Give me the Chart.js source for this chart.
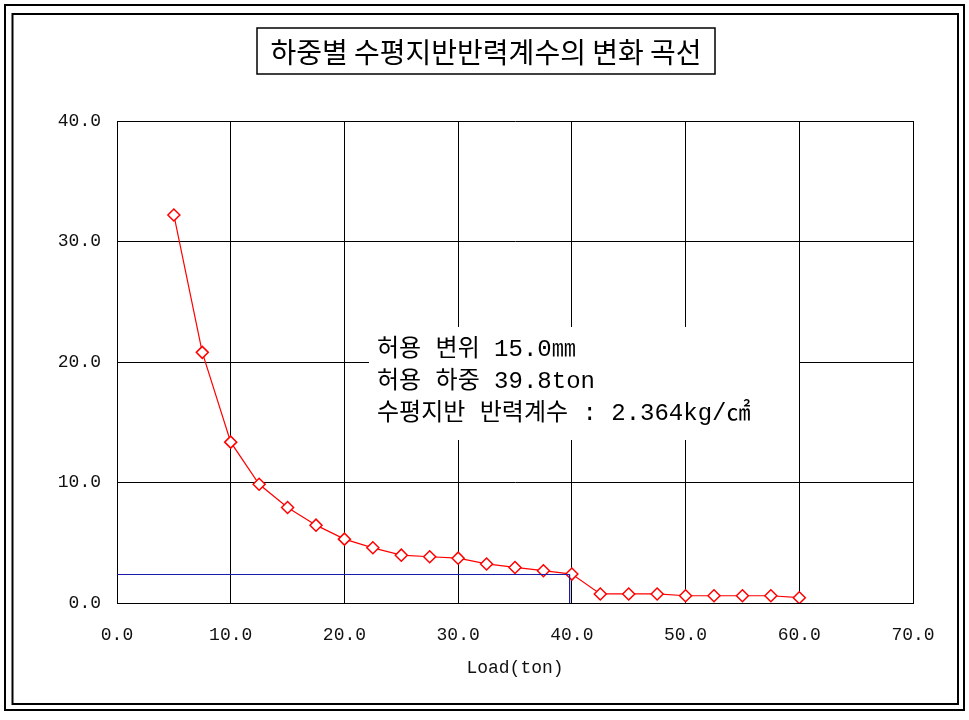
<!DOCTYPE html>
<html lang="ko">
<head>
<meta charset="utf-8">
<title>하중별 수평지반반력계수의 변화 곡선</title>
<script src="https://cdn.jsdelivr.net/npm/chart.js@4/dist/chart.umd.min.js"></script>
<style>
  html, body { margin: 0; padding: 0; background: #fff; }
  #wrap { position: relative; width: 969px; height: 720px; }
  canvas { display: block; }
</style>
</head>
<body>
<div id="wrap"><canvas id="grafico" width="969" height="720"></canvas></div>
<script>
'use strict';

// ── Dati ──────────────────────────────────────────────
const loads = [5, 7.5, 10, 12.5, 15, 17.5, 20, 22.5, 25, 27.5, 30, 32.5, 35, 37.5, 40,
               42.5, 45, 47.5, 50, 52.5, 55, 57.5, 60];
const coef = [32.2, 20.8, 13.35, 9.85, 7.92, 6.46, 5.3, 4.58, 3.97, 3.84, 3.72, 3.24, 2.95, 2.68, 2.4,
              0.75, 0.75, 0.75, 0.6, 0.6, 0.6, 0.6, 0.44];

// allowable load / coefficient guide line
const refX = [0, 39.8, 39.8];
const refY = [2.364, 2.364, 0];

const xTicks = [0, 10, 20, 30, 40, 50, 60, 70];
const yTicks = [0, 10, 20, 30, 40];

const titleText = '하중별 수평지반반력계수의 변화 곡선';
const noteLines = ['허용 변위 15.0㎜', '허용 하중 39.8ton', '수평지반 반력계수 : 2.364kg/㎠'];
const xTitle = 'Load(ton)';

const MONO = "'Liberation Mono', 'Noto Sans CJK KR', monospace";

// ── Plugin: cornice, titolo, riquadro note ────────────────
const decor = {
  id: 'decor',
  beforeDraw(chart) {
    const c = chart.ctx;
    c.save();
    c.fillStyle = '#fff';
    c.fillRect(0, 0, chart.width, chart.height);
    c.strokeStyle = '#000';
    c.lineWidth = 2;
    c.strokeRect(5, 5, 959, 705);
    c.strokeRect(12.5, 14, 945.5, 690);
    // titolo
    c.lineWidth = 1.5;
    c.strokeRect(257, 28, 458, 46);
    c.fillStyle = '#000';
    c.font = "28px 'Noto Sans CJK KR', sans-serif";
    c.textAlign = 'center';
    c.textBaseline = 'middle';
    c.fillText(titleText, 486, 52);
    c.restore();
  },
  beforeDatasetsDraw(chart) {
    const c = chart.ctx;
    c.save();
    c.fillStyle = '#fff';
    c.fillRect(369, 327, 430, 113);
    c.fillStyle = '#000';
    c.font = '24px ' + MONO;
    c.textAlign = 'left';
    c.textBaseline = 'middle';
    const ys = [350, 382, 414];
    noteLines.forEach((t, i) => c.fillText(t, 377, ys[i]));
    c.restore();
  }
};

const tickFont = { family: MONO, size: 18 };

new Chart(document.getElementById('grafico').getContext('2d'), {
  type: 'line',
  data: {
    datasets: [
      {
        label: 'guide',
        data: refX.map((x, i) => ({ x: x, y: refY[i] })),
        borderColor: '#1c1caa',
        borderWidth: 1,
        pointRadius: 0,
        tension: 0
      },
      {
        label: 'coef',
        data: loads.map((x, i) => ({ x: x, y: coef[i] })),
        borderColor: '#ff0000',
        borderWidth: 1.2,
        pointStyle: 'rectRot',
        pointRadius: 6,
        pointBorderWidth: 1.5,
        pointBorderColor: '#ff0000',
        pointBackgroundColor: '#fff',
        tension: 0
      }
    ]
  },
  options: {
    responsive: false,
    animation: false,
    devicePixelRatio: 1,
    layout: { padding: { left: 57, right: 56, top: 121, bottom: 37 } },
    plugins: { legend: { display: false }, tooltip: { enabled: false }, title: { display: false } },
    scales: {
      x: {
        type: 'linear', min: 0, max: 70,
        afterBuildTicks: s => { s.ticks = xTicks.map(v => ({ value: v })); },
        afterFit: s => { s.height = 80; },
        grid: { color: '#000', lineWidth: 1, drawTicks: false },
        border: { color: '#000', width: 1 },
        ticks: { color: '#111', font: tickFont, padding: 21, maxRotation: 0, callback: v => v.toFixed(1) },
        title: { display: true, text: xTitle, color: '#111', font: tickFont, padding: { top: 0, bottom: 4 } }
      },
      y: {
        type: 'linear', min: 0, max: 40,
        afterBuildTicks: s => { s.ticks = yTicks.map(v => ({ value: v })); },
        afterFit: s => { s.width = 60; },
        grid: { color: '#000', lineWidth: 1, drawTicks: false },
        border: { color: '#000', width: 1 },
        ticks: { color: '#111', font: tickFont, padding: 16, callback: v => v.toFixed(1) }
      }
    }
  },
  plugins: [decor]
});
</script>
</body>
</html>
